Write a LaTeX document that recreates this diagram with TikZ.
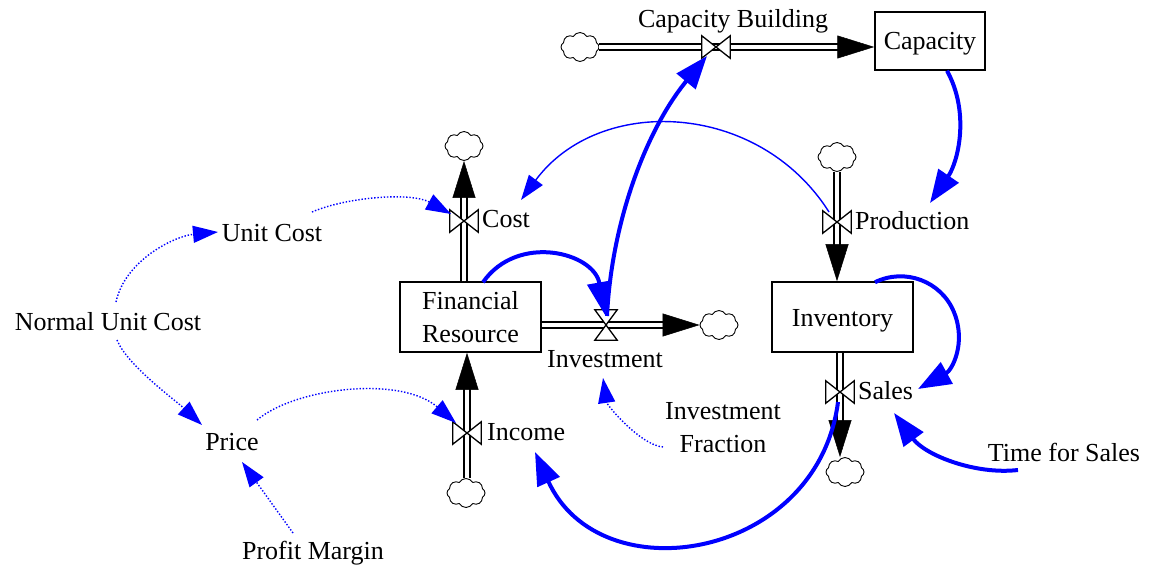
\documentclass[tikz,border=0pt]{standalone}
\usepackage{fontspec}
\setmainfont{Liberation Serif}
\usetikzlibrary{arrows.meta,shapes.symbols,calc}
\definecolor{linkblue}{RGB}{0,0,255}
\begin{document}
\begin{tikzpicture}[x=1pt,y=-1pt,
  every node/.style={font=\fontsize{26}{33}\selectfont, inner sep=0pt},
  stock/.style={draw, line width=1.5pt, minimum width=141pt, minimum height=70pt, align=center},
  lbl/.style={anchor=base},
  flbl/.style={anchor=base west},
  cloudn/.style={cloud, cloud puffs=8, cloud puff arc=120, cloud ignores aspect, draw, line width=0.9pt, fill=white, minimum width=38pt, minimum height=29pt},
  valvebox/.style={minimum width=28pt, minimum height=22pt},
  valveshape/.style={draw, line width=1.3pt, fill=white, line join=miter},
  pipe/.style={draw, line width=1.5pt, double=white, double distance=4.5pt, shorten >=15pt},
  flowtip/.style={draw=white, line width=0.5pt, -{Triangle[length=37pt,width=23pt,color=black]}},
  thicklink/.style={draw=linkblue, line width=4pt, -{Triangle[length=33pt,width=24pt]}},
  thinlink/.style={draw=linkblue, line width=1.4pt, -{Triangle[length=25pt,width=17pt]}},
  dotlink/.style={thinlink, dash pattern=on 1.4pt off 1.8pt}
]
\useasboundingbox (0,0) rectangle (1153,569);

% stocks
\node[stock, minimum width=110pt, minimum height=58pt, text height=18pt, text depth=0pt] (cap) at (930,41) {Capacity};
\node[stock] (fin) at (470.5,317) {Financial\\Resource};
\node[stock, text height=18pt, text depth=0pt] (inv) at (842.5,317) {Inventory};

% clouds
\node[cloudn] (cloudcb) at (580,47) {};
\node[cloudn] (cloudcost) at (464,146) {};
\node[cloudn] (cloudinv) at (719,325) {};
\node[cloudn] (cloudinc) at (466,493) {};
\node[cloudn] (cloudprod) at (837,157) {};
\node[cloudn] (cloudsales) at (845,472) {};

% valve placeholders
\node[valvebox] (vcb) at (716,47) {};
\node[valvebox] (vcost) at (464,221) {};
\node[valvebox] (vinc) at (467,433) {};
\node[valvebox] (vprod) at (837,222) {};
\node[valvebox] (vsales) at (840,392) {};
\node[minimum width=22pt, minimum height=30pt] (vinvest) at (606,325) {};

% labels
\node[lbl] (capbl) at (733,28) {Capacity Building};
\node[flbl] (costl) at (482,228) {Cost};
\node[flbl] (prodl) at (855,230) {Production};
\node[flbl] (salesl) at (858,399) {Sales};
\node[flbl] (incl) at (487,440) {Income};
\node[lbl] (invl) at (605,367) {Investment};
\node[lbl] (unitc) at (272,242) {Unit Cost};
\node[lbl] (nuc) at (108,330) {Normal Unit Cost};
\node[lbl] (price) at (232,450) {Price};
\node[lbl] (pm) at (313,559) {Profit Margin};
\node[align=center] (invf) at (723,428) {Investment\\Fraction};
\node[lbl] (tfs) at (1064,461) {Time for Sales};

% pipes
\draw[pipe] (cloudcb.east) -- (cloudcb.east -| cap.west);
\draw[flowtip] (cloudcb.east) -- (cloudcb.east -| cap.west);
\draw[pipe] (vcost |- fin.north) -- (vcost |- cloudcost.south);
\draw[flowtip] (vcost |- fin.north) -- (vcost |- cloudcost.south);
\draw[pipe] (vinc |- cloudinc.north) -- (vinc |- fin.south);
\draw[flowtip] (vinc |- cloudinc.north) -- (vinc |- fin.south);
\draw[pipe] (fin.east |- vinvest) -- (vinvest -| cloudinv.west);
\draw[flowtip] (fin.east |- vinvest) -- (vinvest -| cloudinv.west);
\draw[pipe] (vprod |- cloudprod.south) -- (vprod |- inv.north);
\draw[flowtip] (vprod |- cloudprod.south) -- (vprod |- inv.north);
\draw[pipe] (vsales |- inv.south) -- (vsales |- cloudsales.north);
\draw[flowtip] (vsales |- inv.south) -- (vsales |- cloudsales.north);

% valves
\foreach \v in {vcb,vcost,vinc,vprod,vsales}{
  \draw[valveshape] (\v.south west) -- (\v.north west) -- (\v.south east) -- (\v.north east) -- cycle;
}
\draw[valveshape] (vinvest.north west) -- (vinvest.north east) -- (vinvest.south west) -- (vinvest.south east) -- cycle;

% thick links
\draw[thicklink] ($(cap.south)+(17,0)$) .. controls (970.3,113.2) and (958,162) .. ($(prodl.base west)+(75,-27)$);
\draw[thicklink] ($(fin.north)+(12.5,1)$) .. controls (517.7,232.7) and (594,252.5) .. ($(vinvest)+(-1,-10)$);
\draw[thicklink] ($(vinvest)+(1,-9)$) .. controls (611.7,220.5) and (646.7,129.2) .. ($(vcb)+(-9,9)$);
\draw[thicklink] ($(inv.north)+(32.5,1)$) .. controls (904.7,267.6) and (941.2,281.0) .. (953.9,312.0)
   .. controls (966.6,343.0) and (952.0,370.1) .. ($(salesl.base west)+(60,-10)$);
\draw[thicklink] ($(tfs.base)+(-46,9)$) .. controls (975,475) and (925,455) .. ($(salesl.base west)+(36,14)$);
\draw[thicklink] ($(vsales)+(-2,10)$) .. controls (817.3,560.1) and (600,595.3) .. ($(incl.base west)+(48,12)$);

% thin link
\draw[thinlink] ($(vprod)+(-8,-10)$) .. controls (758.5,100.7) and (599.1,94.5) .. ($(costl.base west)+(39,-28)$);

% dotted links
\draw[dotlink] ($(unitc.base)+(40,-30)$) .. controls (347,197) and (411,192) .. ($(vcost)+(-13,-7)$);
\draw[dotlink] ($(nuc.base)+(8,-28)$) .. controls (125,260) and (175,236) .. ($(unitc.base)+(-54,-10)$);
\draw[dotlink] ($(nuc.base)+(9,10)$) .. controls (127,365) and (175,400) .. ($(price.base)+(-30,-25)$);
\draw[dotlink] ($(price.base)+(25,-30)$) .. controls (295,388) and (400,375) .. ($(vinc)+(-11,-10)$);
\draw[dotlink] ($(pm.base)+(-20,-26)$) -- ($(price.base)+(10,12)$);
\draw[dotlink] ($(invf)+(-60,19)$) .. controls (640,445) and (607,405) .. ($(invl.base)+(-2,11)$);
\end{tikzpicture}
\end{document}
